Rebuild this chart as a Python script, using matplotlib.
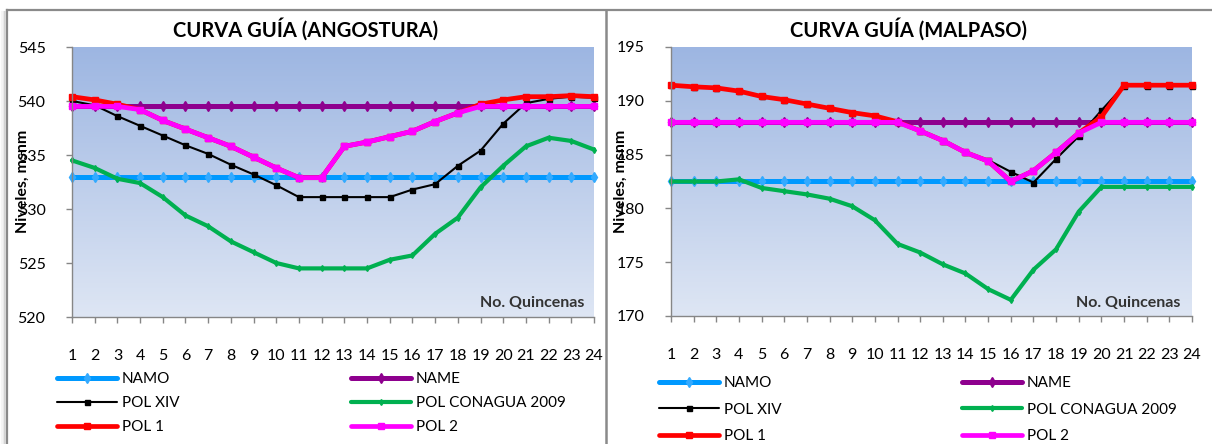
import numpy as np
import matplotlib
matplotlib.use("Agg")
import matplotlib.pyplot as plt
from matplotlib.lines import Line2D

plt.rcParams['font.family'] = ['Lato', 'DejaVu Sans']

quincenas = list(range(1, 25))
tick_labels = [str(q) for q in quincenas]

# --- Angostura ---
ang_namo = [533.0] * 24
ang_name = [539.5] * 24
ang_polxiv = [540.0, 539.6, 538.6, 537.7, 536.8, 535.9, 535.1, 534.1, 533.2, 532.2, 531.1, 531.1,
              531.1, 531.1, 531.1, 531.8, 532.3, 534.0, 535.4, 537.9, 539.8, 540.2, 540.4, 540.3]
ang_conagua = [534.5, 533.8, 532.8, 532.4, 531.1, 529.4, 528.4, 527.0, 526.0, 525.0, 524.5, 524.5,
               524.5, 524.5, 525.3, 525.7, 527.7, 529.2, 532.0, 534.0, 535.8, 536.6, 536.3, 535.5]
ang_pol1 = [540.4, 540.1, 539.7, 539.2, 538.2, 537.4, 536.6, 535.8, 534.8, 533.8, 532.9, 532.9,
            535.8, 536.2, 536.7, 537.2, 538.1, 538.9, 539.7, 540.1, 540.4, 540.4, 540.5, 540.4]
ang_pol2 = [539.5, 539.5, 539.5, 539.2, 538.2, 537.4, 536.6, 535.8, 534.8, 533.8, 532.9, 532.9,
            535.8, 536.2, 536.7, 537.2, 538.1, 538.9, 539.5, 539.5, 539.5, 539.5, 539.5, 539.5]

# --- Malpaso ---
mal_namo = [182.5] * 24
mal_name = [188.0] * 24
mal_polxiv = [191.45, 191.3, 191.2, 190.9, 190.4, 190.1, 189.7, 189.3, 188.9, 188.6, 188.05, 187.2,
              186.3, 185.2, 184.5, 183.4, 182.4, 184.6, 186.7, 189.1, 191.4, 191.4, 191.4, 191.4]
mal_conagua = [182.5, 182.5, 182.5, 182.7, 181.9, 181.6, 181.3, 180.9, 180.2, 178.9, 176.7, 175.9,
               174.8, 173.95, 172.5, 171.5, 174.3, 176.2, 179.7, 182.0, 182.0, 182.0, 182.0, 182.0]
mal_pol1 = [191.45, 191.3, 191.2, 190.9, 190.4, 190.1, 189.7, 189.3, 188.9, 188.6, 188.05, 187.2,
            186.3, 185.2, 184.4, 182.5, 183.5, 185.2, 187.0, 188.5, 191.45, 191.45, 191.45, 191.45]
mal_pol2 = [188.0, 188.0, 188.0, 188.0, 188.0, 188.0, 188.0, 188.0, 188.0, 188.0, 188.0, 187.2,
            186.3, 185.2, 184.4, 182.5, 183.5, 185.2, 187.0, 188.0, 188.0, 188.0, 188.0, 188.0]

series_names = ["NAMO", "NAME", "POL XIV", "POL CONAGUA 2009", "POL 1", "POL 2"]

styles = [
    dict(color="#0099FF", lw=3.6, marker="d", ms=5, mfc="#33AAFF", mec="#33AAFF"),
    dict(color="#8E008E", lw=3.6, marker="d", ms=5, mfc="#8E008E", mec="#8E008E"),
    dict(color="#000000", lw=1.5, marker="s", ms=3.6, mfc="#000000", mec="#000000"),
    dict(color="#00B050", lw=3.0, marker="d", ms=3, mfc="#00B050", mec="#00B050"),
    dict(color="#FF0000", lw=3.4, marker="s", ms=4.5, mfc="#FF0000", mec="#FF0000"),
    dict(color="#FF00FF", lw=3.4, marker="s", ms=4, mfc="#FF00FF", mec="#FF00FF"),
]

W, H = 1212, 444
fig = plt.figure(figsize=(W / 100, H / 100), dpi=100)
fig.patch.set_facecolor("white")


def fx(px):
    return px / W


def fy(py):
    return 1 - py / H


# Panel frames
frame_col = "#8a8a8a"
fig.add_artist(Line2D([fx(7), fx(1212)], [fy(10), fy(10)], color=frame_col, lw=1.6))
for i, a in enumerate([0.25, 0.15, 0.08]):
    fig.add_artist(Line2D([fx(5 - i * 1.5), fx(5 - i * 1.5)], [fy(12), fy(444)],
                          color="#888888", lw=1.5, alpha=a))
fig.add_artist(Line2D([fx(7), fx(7)], [fy(10), fy(444)], color=frame_col, lw=1.6))
fig.add_artist(Line2D([fx(606), fx(606)], [fy(10), fy(444)], color=frame_col, lw=1.8))

top_rgb = np.array([157, 182, 226]) / 255
bot_rgb = np.array([222, 230, 244]) / 255
grad = np.linspace(0, 1, 256)[:, None]
grad_img = top_rgb[None, None, :] * (1 - grad[:, :, None]) + bot_rgb[None, None, :] * grad[:, :, None]


def make_panel(left_px, right_px, top_px, bot_px, ylim, data, title, title_cx,
               ylab_x, quin_right, leg_cols, leg_top, leg_spacing):
    ax = fig.add_axes([fx(left_px), fy(bot_px), fx(right_px - left_px), (bot_px - top_px) / H])
    ax.set_xlim(1, 24)
    ax.set_ylim(*ylim)
    ax.imshow(grad_img, extent=(1, 24, ylim[0], ylim[1]), aspect="auto", zorder=0,
              interpolation="bilinear")
    handles = []
    for vals, name, st in zip(data, series_names, styles):
        ln, = ax.plot(quincenas, vals, label=name, clip_on=False, zorder=3,
                      solid_capstyle="round", solid_joinstyle="round", **st)
        handles.append(ln)
    for s in ["top", "right"]:
        ax.spines[s].set_visible(False)
    for s in ["left", "bottom"]:
        ax.spines[s].set_color("#868686")
        ax.spines[s].set_linewidth(1.0)
        ax.spines[s].set_zorder(4)
    ax.set_xticks(quincenas)
    ax.set_xticklabels(tick_labels)
    ax.set_yticks(np.arange(ylim[0], ylim[1] + 1, 5))
    ax.tick_params(axis="x", direction="out", length=4, width=1, color="#868686",
                   pad=19, labelsize=11.5, labelcolor="black")
    ax.tick_params(axis="y", direction="out", length=4, width=1, color="#868686",
                   pad=15, labelsize=11.5, labelcolor="black")
    fig.text(fx(title_cx), fy(29), title, ha="center", va="center", fontsize=14.5,
             fontweight="bold", color="black")
    fig.text(fx(ylab_x), fy(181), "Niveles, msnm", rotation=90, ha="center", va="center",
             fontsize=11.5, fontweight="bold", color="black")
    ax.text((quin_right - left_px) / (right_px - left_px), (bot_px - 303) / (bot_px - top_px),
            "No. Quincenas", transform=ax.transAxes, ha="right", va="center",
            fontsize=11.5, fontweight="bold", color="#333333", zorder=5)
    # Legends (two columns)
    cols = [[handles[0], handles[2], handles[4]], [handles[1], handles[3], handles[5]]]
    for cx, hs in zip(leg_cols, cols):
        fig.legend(handles=hs, labels=[h.get_label() for h in hs],
                   loc="upper left", bbox_to_anchor=(fx(cx), fy(leg_top)),
                   frameon=False, fontsize=11, handlelength=3.9, handletextpad=0.35,
                   labelspacing=leg_spacing, numpoints=1, borderpad=0, borderaxespad=0)
    return ax


make_panel(72, 594, 47, 317, (520, 545),
           [ang_namo, ang_name, ang_polxiv, ang_conagua, ang_pol1, ang_pol2],
           "CURVA GUÍA (ANGOSTURA)", 306, 23, 584, [57, 351], 372, 0.65)
make_panel(671, 1192, 47, 316, (170, 195),
           [mal_namo, mal_name, mal_polxiv, mal_conagua, mal_pol1, mal_pol2],
           "CURVA GUÍA (MALPASO)", 909, 621, 1180, [659, 962], 376, 0.82)

fig.savefig("out.png", dpi=100, facecolor="white")
